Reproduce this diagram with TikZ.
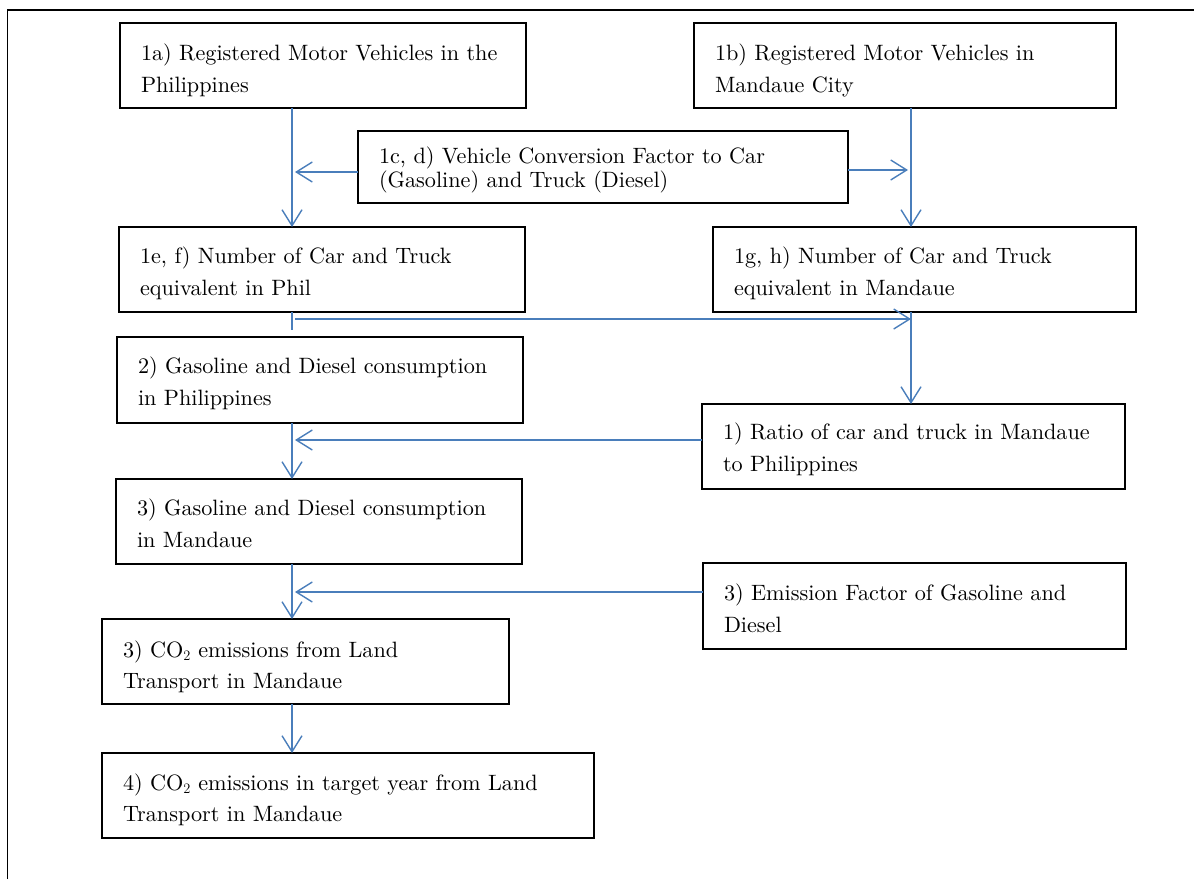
\documentclass[tikz,border=0pt]{standalone}
\usepackage{fontspec}
\setmainfont{lmroman10-regular.otf}
\usetikzlibrary{arrows.meta,calc}
\definecolor{lnblue}{HTML}{4A7EBB}
\newcommand{\bxt}[5]{\parbox[t][#2pt][t]{#1pt}{\fontsize{22.2pt}{#4pt}\selectfont\raggedright\leftskip=21pt\relax\rule{0pt}{#3pt}#5}}
\begin{document}
\begin{tikzpicture}[x=1pt,y=-1pt,
  box/.style={draw, line width=1.3pt, inner sep=0pt, outer sep=0pt, anchor=north west},
  conn/.style={draw=lnblue, line width=1.4pt},
  arr/.style={conn, -{Straight Barb[length=16pt,width=20pt]}}]
\useasboundingbox (0,0) rectangle (1194,879);
\draw[line width=1.5pt] (7.3,879) -- (7.3,10) -- (1194,10);

\node[box] (a1) at (120,23)  {\bxt{406}{85}{37}{32}{1a) Registered Motor Vehicles in the\\Philippines}};
\node[box] (b1) at (694,23)  {\bxt{422}{85}{37}{32}{1b) Registered Motor Vehicles in\\Mandaue City}};
\node[box] (c1) at (358,131) {\bxt{490}{72}{32}{24}{1c, d) Vehicle Conversion Factor to Car\\(Gasoline) and Truck (Diesel)}};
\node[box] (e1) at (119,227) {\bxt{406}{85}{36}{32}{1e, f) Number of Car and Truck\\equivalent in Phil}};
\node[box] (g1) at (713,227) {\bxt{423}{85}{36}{32}{1g, h) Number of Car and Truck\\equivalent in Mandaue}};
\node[box] (g2) at (117,337) {\bxt{406}{86}{36}{32}{2) Gasoline and Diesel consumption\\in Philippines}};
\node[box] (r1) at (702,404) {\bxt{423}{85}{35}{32}{1) Ratio of car and truck in Mandaue\\to Philippines}};
\node[box] (g3) at (116,479) {\bxt{406}{85}{36}{32}{3) Gasoline and Diesel consumption\\in Mandaue}};
\node[box] (em) at (703,563) {\bxt{423}{86}{37}{32}{3) Emission Factor of Gasoline and\\Diesel}};
\node[box] (co) at (102,619) {\bxt{407}{85}{38}{31}{3) CO$_2$ emissions from Land\\Transport in Mandaue}};
\node[box] (f4) at (102,753) {\bxt{492}{85}{37}{31}{4) CO$_2$ emissions in target year from Land\\Transport in Mandaue}};

\coordinate (lx) at (292,0);
\coordinate (lxa) at (295,0);
\coordinate (rx) at (911,0);
\coordinate (rxa) at (908,0);

\draw[arr] (a1.south -| lx) -- (e1.north -| lx);
\path ($(c1.west)+(0,5)$) coordinate (c1l);
\draw[arr] (c1l) -- (c1l -| lxa);
\path ($(c1.east)+(0,3)$) coordinate (c1r);
\draw[arr] (c1r) -- (c1r -| rxa);
\draw[arr] (b1.south -| rx) -- (g1.north -| rx);
\draw[conn] (e1.south -| lx) -- ++(0,18);
\path ($(e1.south)+(0,7)$) coordinate (eh);
\draw[arr] (eh -| lxa) -- (eh -| rx);
\draw[arr] (g1.south -| rx) -- (r1.north -| rx);
\path ($(r1.west)+(0,-6.5)$) coordinate (rl);
\draw[arr] (rl) -- (rl -| lxa);
\draw[arr] (g2.south -| lx) -- (g3.north -| lx);
\path ($(em.west)+(0,-14)$) coordinate (el);
\draw[arr] (el) -- (el -| lxa);
\draw[arr] (g3.south -| lx) -- (co.north -| lx);
\draw[arr] (co.south -| lx) -- (f4.north -| lx);
\end{tikzpicture}
\end{document}
